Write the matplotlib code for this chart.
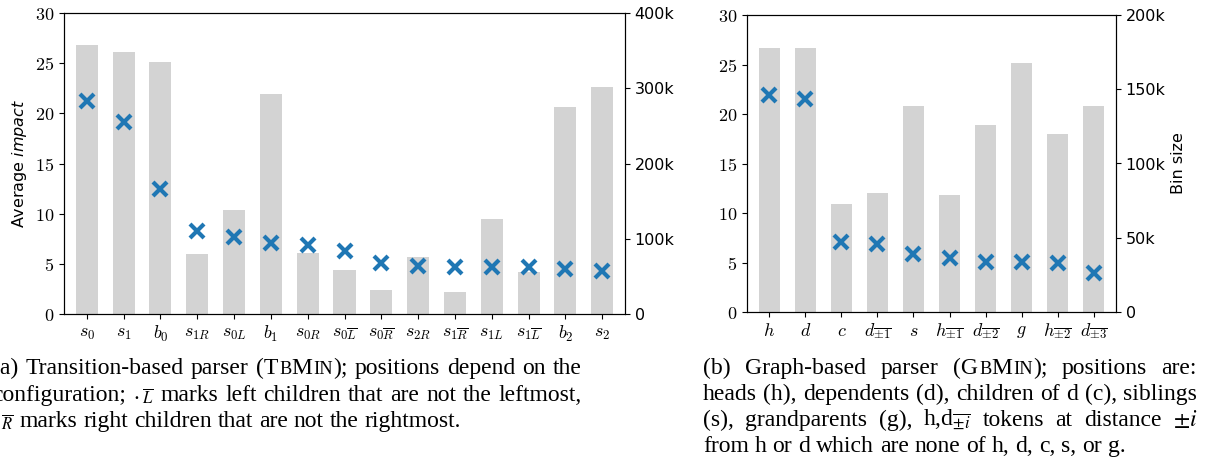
import numpy as np
import matplotlib
matplotlib.use('Agg')
import matplotlib.pyplot as plt
from matplotlib.ticker import FuncFormatter

plt.rcParams['mathtext.fontset'] = 'cm'
plt.rcParams['font.family'] = 'DejaVu Sans'

# (a) transition-based parser
tb_labels = [r'$s_0$', r'$s_1$', r'$b_0$', r'$s_{1R}$', r'$s_{0L}$', r'$b_1$', r'$s_{0R}$',
             r'$s_{0\overline{L}}$', r'$s_{0\overline{R}}$', r'$s_{2R}$', r'$s_{1\overline{R}}$',
             r'$s_{1L}$', r'$s_{1\overline{L}}$', r'$b_2$', r'$s_2$']
tb_impact = [21.2, 19.1, 12.5, 8.3, 7.7, 7.1, 6.9, 6.3, 5.05, 4.8, 4.7, 4.7, 4.7, 4.45, 4.3]
tb_binsize = [357000, 348000, 335000, 80000, 138000, 292000, 81000, 58000, 32000,
              76000, 29000, 126000, 56000, 275000, 302000]

# (b) graph-based parser
gb_labels = [r'$h$', r'$d$', r'$c$', r'$d_{\overline{\pm1}}$', r'$s$', r'$h_{\overline{\pm1}}$',
             r'$d_{\overline{\pm2}}$', r'$g$', r'$h_{\overline{\pm2}}$', r'$d_{\overline{\pm3}}$']
gb_impact = [21.9, 21.5, 7.05, 6.9, 5.9, 5.5, 5.1, 5.1, 5.0, 3.9]
gb_binsize = [178000, 178000, 73000, 80000, 139000, 79000, 126000, 168000, 120000, 139000]

# captions (^..^ = small caps)
cap_a = ["(a) Transition-based parser (T^b^M^in^); positions depend on the",
         r"configuration; $._{\overline{L}}$ marks left children that are not the leftmost,",
         r"$._{\overline{R}}$ marks right children that are not the rightmost."]
cap_b = ["(b) Graph-based parser (G^b^M^in^); positions are:",
         "heads (h), dependents (d), children of d (c), siblings",
         r"(s), grandparents (g), h,d$_{\overline{\pm{i}}}$ tokens at distance $\pm{i}$",
         "from h or d which are none of h, d, c, s, or g."]

fig = plt.figure(figsize=(12.08, 4.61), dpi=100)
W, H = 1208, 461


def kfmt(v, pos):
    return '0' if v == 0 else '%dk' % round(v / 1000)


def panel(rect, labels, impact, binsize, bmax, bstep, ylabel=None, y2label=None):
    ax = fig.add_axes(rect)
    ax2 = ax.twinx()
    x = np.arange(len(labels))
    ax2.bar(x, binsize, width=0.6, color='lightgray')
    ax.plot(x, impact, 'x', color='#1f77b4', ms=10, mew=3)
    ax.set_zorder(ax2.get_zorder() + 1)
    ax.patch.set_visible(False)
    ax.set_xlim(-0.62, len(labels) - 0.38)
    ax.set_ylim(0, 30)
    ax.set_yticks(range(0, 31, 5))
    ax.yaxis.set_major_formatter(FuncFormatter(lambda v, p: '$%d$' % v))
    ax.set_xticks(x)
    ax.set_xticklabels(labels, fontsize=13)
    ax.tick_params(axis='y', labelsize=13)
    ax2.set_ylim(0, bmax)
    ax2.set_yticks(np.arange(0, bmax + 1, bstep))
    ax2.yaxis.set_major_formatter(FuncFormatter(kfmt))
    ax2.tick_params(axis='y', labelsize=11.5)
    if ylabel:
        ax.set_ylabel(ylabel, fontsize=11.5, math_fontfamily='dejavusans')
    if y2label:
        ax2.set_ylabel(y2label, fontsize=11.5)
    return ax, ax2


panel([64 / W, 1 - 314 / H, 561 / W, 301 / H], tb_labels, tb_impact, tb_binsize,
      400000, 100000, ylabel=r'Average $\it{impact}$')
panel([747 / W, 1 - 312 / H, 369 / W, 297 / H], gb_labels, gb_impact, gb_binsize,
      200000, 50000, y2label='Bin size')

# caption text, set word by word so the lines are justified
renderer = fig.canvas.get_renderer()
S = 17


def make_token(tok, ybase):
    parts = tok.split('^')
    runs = []
    w = 0
    for i, p in enumerate(parts):
        if not p:
            continue
        size = S * 0.78 if i % 2 else S
        txt = p.upper() if i % 2 else p
        t = fig.text(0, 1 - ybase / H, txt, family='Liberation Serif', math_fontfamily='stix',
                     fontsize=size, va='baseline', ha='left')
        runs.append((t, w))
        w += t.get_window_extent(renderer).width + (1 if i % 2 == 0 and i + 1 < len(parts) else 0)
    return runs, w


def caption(lines, x0, x1, y0, dy):
    space = 0.25 * S * 100 / 72
    for k, line in enumerate(lines):
        yb = y0 + k * dy
        toks = [make_token(t, yb) for t in line.split(' ')]
        total = sum(w for _, w in toks)
        last = k == len(lines) - 1
        gap = space if last else (x1 - x0 - total) / (len(toks) - 1)
        x = x0
        for runs, w in toks:
            for t, off in runs:
                t.set_x((x + off) / W)
            x += w + gap


caption(cap_a, -8, 582, 374, 26.5)
caption(cap_b, 703, 1197, 374, 26)

fig.savefig('out.png', dpi=100)
